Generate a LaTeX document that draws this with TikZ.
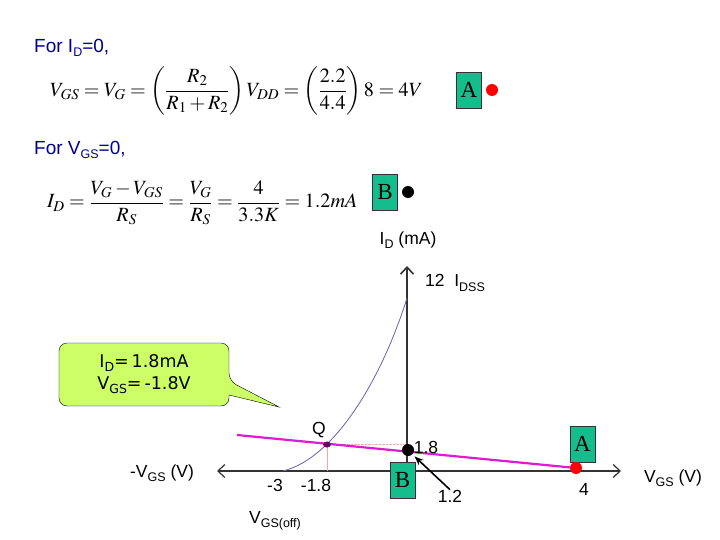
\documentclass[tikz,border=0pt]{standalone}
\usetikzlibrary{arrows.meta}
\usepackage{amsmath}
\usepackage{mathptmx}
\usepackage{fontspec}
\setmainfont{Liberation Sans}
\newfontfamily\boxfont{Liberation Serif}
\newfontfamily\calloutfont{DejaVu Sans}
\newcommand{\subtxt}[1]{\raisebox{-0.45ex}{\fontsize{12.5}{13}\selectfont #1}}
\definecolor{headblue}{HTML}{000090}
\definecolor{boxgreen}{HTML}{14BE8C}
\definecolor{calloutgreen}{HTML}{CCFF66}
\definecolor{curveblue}{HTML}{6A5FB0}
\definecolor{guidepink}{HTML}{F0A8A8}
\definecolor{linemagenta}{HTML}{DC1CD0}
\tikzset{
    txt/.style={inner sep=0pt, font=\fontsize{17.5}{18}\selectfont},
    head/.style={txt, anchor=west, text=headblue, font=\fontsize{19}{20}\selectfont},
    eqn/.style={inner sep=0pt, anchor=west, font=\fontsize{20.2}{22}\selectfont},
    letterbox/.style={draw=black!80, fill=boxgreen, minimum width=25pt, minimum height=36pt,
        inner sep=0pt, font=\boxfont\fontsize{23}{24}\selectfont},
    reddot/.style={circle, fill=red, minimum size=12pt, inner sep=0pt},
    blackdot/.style={circle, fill=black, minimum size=12pt, inner sep=0pt},
}
\begin{document}
\begin{tikzpicture}[x=1pt,y=-1pt]
    \useasboundingbox (0,0) rectangle (720,540);
    \def\axisx{407}
    \def\axisy{471}

    % Headings and equations
    \node[head] (headA) at (34,48) {For I\subtxt{D}=0,};
    \node[eqn] (eqnA) at (50,91) {$V_{GS}=V_{G}=\left(\dfrac{R_{2}}{R_{1}+R_{2}}\right)V_{DD}=\left(\dfrac{2.2}{4.4}\right)8=4V$};
    \node[head] (headB) at (34,150) {For V\subtxt{GS}=0,};
    \node[eqn] (eqnB) at (47,203) {$I_{D}=\dfrac{V_{G}-V_{GS}}{R_{S}}=\dfrac{V_{G}}{R_{S}}=\dfrac{4}{3.3K}=1.2mA$};

    % Letter boxes next to the equations
    \node[letterbox] (boxA) at (469,90) {A};
    \node[reddot] (dotA) at (492,90) {};
    \node[letterbox] (boxB) at (385,192) {B};
    \node[blackdot] (dotB) at (408,192) {};

    % Axes
    \coordinate (axisTop) at (\axisx,266);
    \coordinate (axisLeft) at (217,\axisy);
    \coordinate (axisRight) at (621,\axisy);
    \coordinate (origin) at (\axisx,\axisy);
    \draw[line width=1.6pt, black!80, -{Straight Barb[length=7pt,width=13pt]}] (origin) -- (axisTop);
    \draw[line width=1.2pt, black!80, -{Straight Barb[length=7pt,width=13pt]}] (origin) -- (axisLeft);
    \draw[line width=1.2pt, black!80, -{Straight Barb[length=7pt,width=13pt]}] (origin) -- (axisRight);

    % Transfer curve
    \coordinate (curveStart) at (283,\axisy);
    \coordinate (curveEnd) at (\axisx,298);
    \draw[curveblue, line width=0.8pt] (curveStart) .. controls (335,458) and (382,378) .. (curveEnd);

    % Q point and its guide lines
    \coordinate (qPoint) at (327,444.5);
    \draw[guidepink, densely dotted] (qPoint) -- (\axisx,444.5);
    \draw[guidepink] (qPoint) -- (327,\axisy);

    % Load line
    \coordinate (lineStart) at (237,435);
    \coordinate (lineEnd) at (576,468);
    \draw[linemagenta, line width=2.2pt] (lineStart) -- (lineEnd);
    \fill[violet!80!black] (qPoint) ellipse (4 and 3);

    % Points on the axes
    \node[letterbox] (boxLowA) at (582.5,444) {A};
    \node[reddot] (dotLowA) at (576,468) {};
    \node[letterbox] (boxLowB) at (402.5,480) {B};
    \node[blackdot] (dotLowB) at (408,450) {};

    % Callout
    \draw[black, fill=calloutgreen, rounded corners=8pt]
        (59,343) -- (229,343) -- (229,381) [sharp corners] -- (279,407) -- (229,395)
        [rounded corners=8pt] -- (229,406) -- (59,406) -- cycle;
    \node[inner sep=0pt, align=center, font=\calloutfont\fontsize{17.5}{22}\selectfont] (calloutText) at (144,374)
        {I\subtxt{D}=\,1.8mA\\V\subtxt{GS}=\,-1.8V};

    % Labels
    \node[txt] (labelId) at (408,240) {I\subtxt{D} (mA)};
    \node[txt] (labelIdss) at (455,283) {12\ \ I\subtxt{DSS}};
    \node[txt] (labelQ) at (319,430) {Q};
    \node[txt] (labelIq) at (426,447) {1.8};
    \node[txt] (labelNeg) at (162,473) {-V\subtxt{GS} (V)};
    \node[txt] (labelOff) at (275,485) {-3};
    \node[txt] (labelVq) at (316,485) {-1.8};
    \node[txt] (labelVoff) at (275,521) {V\subtxt{GS(off)}};
    \node[txt] (labelIb) at (450,496) {1.2};
    \node[txt] (labelVa) at (584,489) {4};
    \node[txt] (labelPos) at (673,478) {V\subtxt{GS} (V)};

    % Arrow from 1.2 to the black dot
    \draw[line width=1.6pt, shorten >=3pt, -{Stealth[length=9pt,width=7pt]}] (labelIb.north) -- (dotLowB.south east);
\end{tikzpicture}
\end{document}
